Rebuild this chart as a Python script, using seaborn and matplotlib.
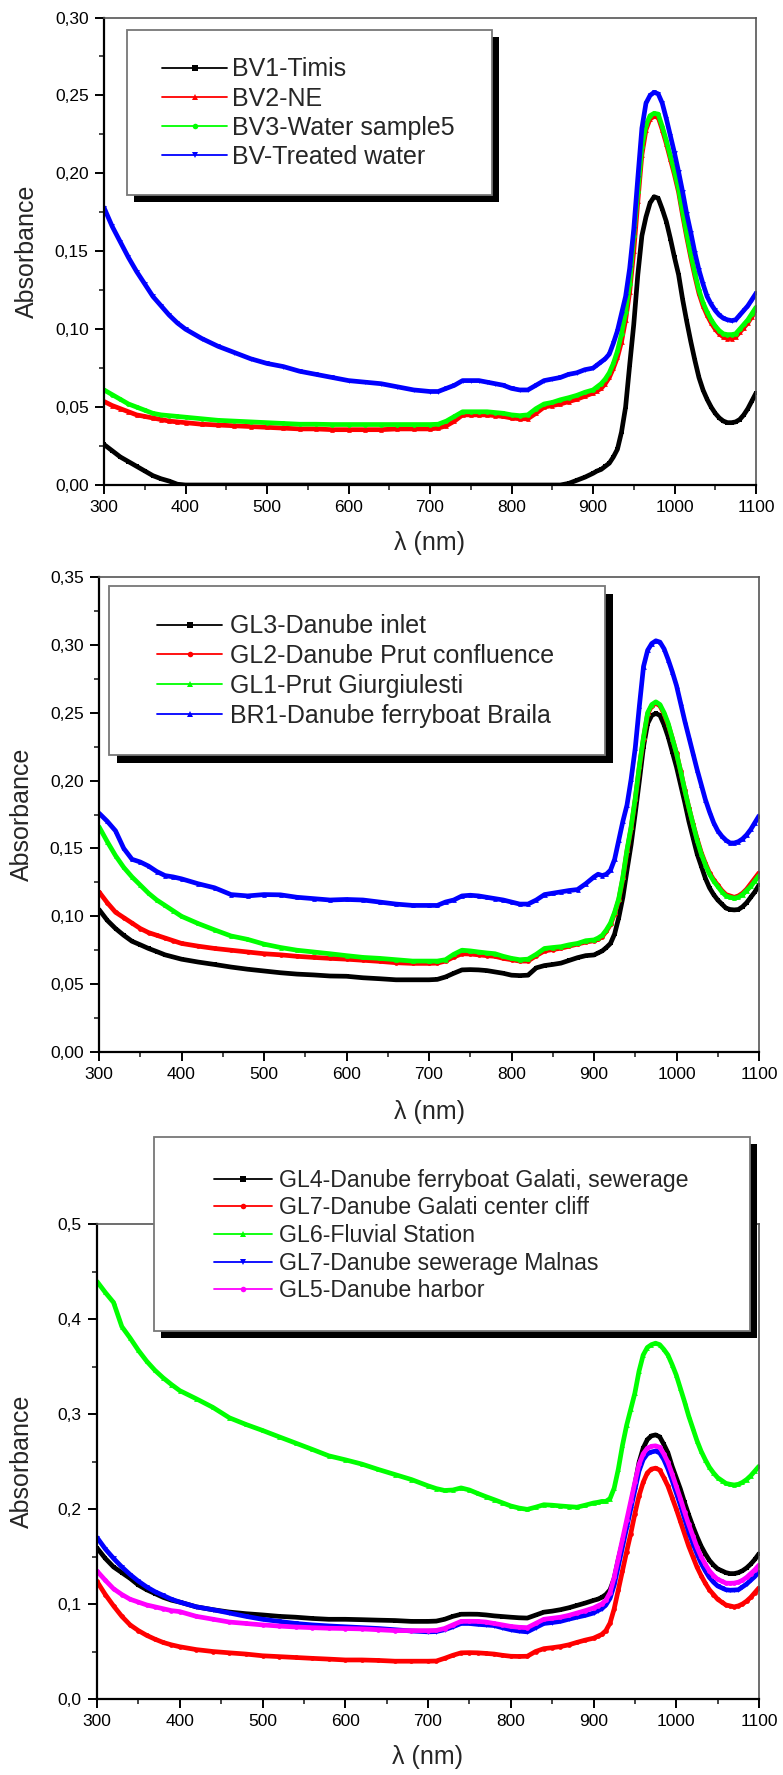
import matplotlib
matplotlib.use("Agg")
import matplotlib.pyplot as plt
import seaborn as sns
from matplotlib.patches import Rectangle
from matplotlib.ticker import MultipleLocator, FuncFormatter

# ---------------- data ----------------
wl = (list(range(300, 400, 10)) + list(range(400, 700, 20)) + list(range(700, 900, 10))
      + list(range(900, 1101, 5)))

p1_labels = ["BV1-Timis", "BV2-NE", "BV3-Water sample5", "BV-Treated water"]
p1_bv1 = [0.026, 0.022, 0.018, 0.015, 0.012, 0.009, 0.006, 0.004, 0.0025, 0.0005,
          0, 0, 0, 0, 0, 0, 0, 0, 0, 0, 0, 0, 0, 0, 0,
          0, 0, 0, 0, 0, 0, 0, 0, 0, 0, 0, 0, 0, 0, 0, 0, 0, 0.001, 0.003, 0.005,
          0.0075, 0.009, 0.010, 0.012, 0.014, 0.018, 0.023, 0.034, 0.050, 0.077, 0.103, 0.135, 0.160,
          0.172, 0.181, 0.185, 0.184, 0.177, 0.169, 0.158, 0.146, 0.135, 0.119, 0.105, 0.092, 0.080,
          0.069, 0.061, 0.055, 0.050, 0.046, 0.043, 0.041, 0.040, 0.040, 0.0405, 0.042, 0.045, 0.049,
          0.054, 0.059]
p1_bv2 = [0.0536, 0.051, 0.049, 0.047, 0.045, 0.044, 0.043, 0.042, 0.041, 0.0405,
          0.040, 0.039, 0.0385, 0.038, 0.0375, 0.037, 0.0365, 0.036, 0.036, 0.0355, 0.0355, 0.0355,
          0.0355, 0.036, 0.036,
          0.036, 0.0365, 0.038, 0.041, 0.045, 0.045, 0.045, 0.045, 0.0445, 0.044, 0.043, 0.0425,
          0.0425, 0.046, 0.050, 0.051, 0.052, 0.0535, 0.055, 0.057,
          0.059, 0.0605, 0.062, 0.065, 0.069, 0.075, 0.082, 0.092, 0.106, 0.124, 0.150, 0.182, 0.212,
          0.228, 0.235, 0.2365, 0.236, 0.228, 0.219, 0.209, 0.199, 0.188, 0.173, 0.159, 0.146, 0.134,
          0.123, 0.115, 0.109, 0.104, 0.100, 0.097, 0.095, 0.094, 0.094, 0.095, 0.098, 0.101, 0.104,
          0.108, 0.112]
p1_bv3 = [0.061, 0.058, 0.055, 0.052, 0.050, 0.048, 0.046, 0.045, 0.0445, 0.044,
          0.0435, 0.0425, 0.0415, 0.041, 0.0405, 0.040, 0.0395, 0.039, 0.039, 0.0388, 0.0388, 0.0388,
          0.0388, 0.0388, 0.0388,
          0.0388, 0.039, 0.041, 0.044, 0.047, 0.047, 0.047, 0.047, 0.0465, 0.046, 0.045, 0.0445,
          0.045, 0.049, 0.052, 0.053, 0.0547, 0.056, 0.0575, 0.0595,
          0.061, 0.063, 0.065, 0.068, 0.072, 0.078, 0.086, 0.097, 0.111, 0.129, 0.160, 0.188, 0.217,
          0.231, 0.237, 0.2385, 0.238, 0.230, 0.221, 0.211, 0.201, 0.190, 0.175, 0.161, 0.148, 0.136,
          0.125, 0.117, 0.111, 0.106, 0.102, 0.099, 0.097, 0.0965, 0.0965, 0.097, 0.100, 0.103, 0.106,
          0.110, 0.114]
p1_bvt = [0.178, 0.166, 0.156, 0.146, 0.137, 0.129, 0.121, 0.115, 0.109, 0.104,
          0.100, 0.094, 0.089, 0.085, 0.081, 0.078, 0.076, 0.073, 0.071, 0.069, 0.067, 0.066, 0.065,
          0.063, 0.061,
          0.060, 0.060, 0.062, 0.064, 0.067, 0.067, 0.067, 0.066, 0.065, 0.064, 0.062, 0.061,
          0.061, 0.064, 0.067, 0.068, 0.069, 0.071, 0.072, 0.074,
          0.075, 0.077, 0.079, 0.081, 0.084, 0.091, 0.099, 0.110, 0.121, 0.139, 0.164, 0.197, 0.229,
          0.245, 0.250, 0.252, 0.251, 0.245, 0.235, 0.224, 0.213, 0.201, 0.188, 0.174, 0.162, 0.149,
          0.138, 0.129, 0.121, 0.116, 0.112, 0.109, 0.107, 0.106, 0.1055, 0.106, 0.109, 0.112, 0.115,
          0.119, 0.123]

p2_labels = ["GL3-Danube inlet", "GL2-Danube Prut confluence", "GL1-Prut Giurgiulesti",
             "BR1-Danube ferryboat Braila"]
p2_gl3 = [0.105, 0.097, 0.091, 0.086, 0.0816, 0.079, 0.0763, 0.074, 0.0716, 0.070,
          0.0684, 0.0663, 0.0645, 0.0626, 0.061, 0.0597, 0.0584, 0.0574, 0.0568, 0.056, 0.0558,
          0.0547, 0.054, 0.0532, 0.0532,
          0.0532, 0.0535, 0.0553, 0.058, 0.0605, 0.0607, 0.0605, 0.060, 0.059, 0.058, 0.0566, 0.0563,
          0.0566, 0.062, 0.0637, 0.0645, 0.0655, 0.0675, 0.0695, 0.071,
          0.0715, 0.073, 0.0745, 0.077, 0.080, 0.087, 0.099, 0.114, 0.134, 0.153, 0.176, 0.200, 0.225,
          0.242, 0.248, 0.2495, 0.248, 0.241, 0.232, 0.221, 0.210, 0.197, 0.184, 0.170, 0.158, 0.146,
          0.137, 0.128, 0.121, 0.116, 0.112, 0.109, 0.106, 0.105, 0.1047, 0.105, 0.107, 0.110, 0.114,
          0.118, 0.123]
p2_gl2 = [0.118, 0.110, 0.103, 0.099, 0.095, 0.091, 0.088, 0.086, 0.084, 0.082,
          0.080, 0.078, 0.0763, 0.075, 0.0737, 0.0724, 0.0716, 0.0705, 0.0697, 0.069, 0.0684, 0.0676,
          0.0668, 0.0658, 0.0653,
          0.0653, 0.0655, 0.067, 0.070, 0.0724, 0.0722, 0.0716, 0.071, 0.0705, 0.069, 0.068, 0.067,
          0.067, 0.071, 0.0745, 0.0755, 0.0765, 0.078, 0.0795, 0.081,
          0.082, 0.083, 0.085, 0.089, 0.094, 0.102, 0.112, 0.128, 0.148, 0.165, 0.186, 0.210, 0.231,
          0.249, 0.255, 0.257, 0.255, 0.249, 0.241, 0.231, 0.220, 0.207, 0.193, 0.180, 0.168, 0.157,
          0.147, 0.139, 0.132, 0.127, 0.123, 0.119, 0.116, 0.115, 0.114, 0.115, 0.117, 0.120, 0.124,
          0.128, 0.132]
p2_gl1 = [0.166, 0.155, 0.1447, 0.136, 0.129, 0.123, 0.117, 0.112, 0.108, 0.104,
          0.100, 0.0947, 0.090, 0.0855, 0.083, 0.0795, 0.077, 0.075, 0.0737, 0.0724, 0.071, 0.0697,
          0.069, 0.068, 0.067,
          0.067, 0.067, 0.068, 0.072, 0.075, 0.0745, 0.0737, 0.073, 0.0724, 0.0705, 0.069, 0.068,
          0.0684, 0.072, 0.0763, 0.077, 0.0776, 0.079, 0.080, 0.082,
          0.0826, 0.084, 0.086, 0.090, 0.095, 0.103, 0.113, 0.129, 0.149, 0.166, 0.187, 0.211, 0.232,
          0.250, 0.256, 0.258, 0.256, 0.250, 0.242, 0.231, 0.220, 0.207, 0.193, 0.180, 0.168, 0.156,
          0.146, 0.138, 0.131, 0.126, 0.122, 0.118, 0.115, 0.114, 0.1133, 0.114, 0.116, 0.119, 0.122,
          0.126, 0.130]
p2_br1 = [0.176, 0.170, 0.163, 0.150, 0.142, 0.140, 0.137, 0.133, 0.130, 0.129,
          0.1276, 0.124, 0.121, 0.116, 0.115, 0.116, 0.1158, 0.114, 0.113, 0.112, 0.1124, 0.112,
          0.1105, 0.109, 0.108,
          0.108, 0.108, 0.1105, 0.112, 0.115, 0.1155, 0.115, 0.114, 0.113, 0.112, 0.1105, 0.109,
          0.109, 0.112, 0.116, 0.117, 0.118, 0.119, 0.1197, 0.124,
          0.129, 0.131, 0.130, 0.131, 0.134, 0.142, 0.156, 0.170, 0.182, 0.201, 0.224, 0.255, 0.284,
          0.296, 0.301, 0.303, 0.302, 0.297, 0.289, 0.280, 0.270, 0.257, 0.244, 0.232, 0.220, 0.208,
          0.197, 0.186, 0.177, 0.169, 0.163, 0.159, 0.156, 0.154, 0.154, 0.155, 0.157, 0.160, 0.164,
          0.169, 0.174]

p3_labels = ["GL4-Danube ferryboat Galati, sewerage", "GL7-Danube Galati center cliff",
             "GL6-Fluvial Station", "GL7-Danube sewerage Malnas", "GL5-Danube harbor"]
p3_gl4 = [0.159, 0.148, 0.139, 0.133, 0.127, 0.120, 0.115, 0.111, 0.107, 0.104,
          0.102, 0.097, 0.094, 0.0915, 0.0898, 0.0885, 0.087, 0.0861, 0.0848, 0.0839, 0.0839, 0.0835,
          0.083, 0.0826, 0.0817,
          0.0817, 0.082, 0.0839, 0.087, 0.0892, 0.0893, 0.0892, 0.0885, 0.0875, 0.0868, 0.0861,
          0.0855, 0.0852, 0.0883, 0.0914, 0.0925, 0.094, 0.096, 0.0985, 0.101,
          0.1038, 0.105, 0.107, 0.110, 0.115, 0.127, 0.147, 0.165, 0.183, 0.204, 0.226, 0.249, 0.264,
          0.273, 0.277, 0.278, 0.276, 0.268, 0.259, 0.245, 0.233, 0.221, 0.207, 0.194, 0.182, 0.171,
          0.161, 0.153, 0.146, 0.141, 0.137, 0.135, 0.133, 0.132, 0.132, 0.133, 0.135, 0.138, 0.142,
          0.147, 0.153]
p3_gl7c = [0.1237, 0.110, 0.098, 0.087, 0.078, 0.072, 0.067, 0.063, 0.0595, 0.057,
           0.055, 0.052, 0.050, 0.0486, 0.0473, 0.0455, 0.0446, 0.0437, 0.0428, 0.042, 0.0411,
           0.0411, 0.0406, 0.0398, 0.0398,
           0.0398, 0.040, 0.0428, 0.046, 0.0486, 0.0488, 0.0486, 0.048, 0.0473, 0.046, 0.045, 0.0448,
           0.045, 0.050, 0.053, 0.054, 0.0552, 0.057, 0.0596, 0.062,
           0.064, 0.066, 0.068, 0.072, 0.080, 0.095, 0.115, 0.135, 0.155, 0.174, 0.195, 0.214, 0.228,
           0.238, 0.242, 0.243, 0.241, 0.233, 0.224, 0.212, 0.200, 0.187, 0.174, 0.161, 0.150, 0.139,
           0.130, 0.122, 0.115, 0.110, 0.105, 0.102, 0.099, 0.098, 0.097, 0.098, 0.100, 0.103, 0.107,
           0.112, 0.117]
p3_gl6 = [0.4395, 0.428, 0.4174, 0.392, 0.380, 0.367, 0.3556, 0.346, 0.338, 0.331,
          0.3246, 0.316, 0.307, 0.296, 0.289, 0.2827, 0.276, 0.2694, 0.2628, 0.256, 0.2518, 0.2473,
          0.2416, 0.2363, 0.231,
          0.2244, 0.2215, 0.2195, 0.220, 0.2222, 0.220, 0.2164, 0.213, 0.2098, 0.2065, 0.2032, 0.201,
          0.1996, 0.2019, 0.2045, 0.204, 0.2032, 0.2025, 0.2019, 0.204,
          0.2063, 0.207, 0.208, 0.208, 0.211, 0.222, 0.242, 0.267, 0.288, 0.305, 0.322, 0.345, 0.362,
          0.370, 0.373, 0.3745, 0.373, 0.368, 0.362, 0.352, 0.341, 0.327, 0.313, 0.298, 0.285, 0.272,
          0.261, 0.252, 0.244, 0.238, 0.233, 0.230, 0.227, 0.226, 0.2253, 0.226, 0.228, 0.231, 0.235,
          0.240, 0.245]
p3_gl7m = [0.170, 0.158, 0.148, 0.139, 0.131, 0.124, 0.118, 0.113, 0.109, 0.105,
           0.102, 0.097, 0.094, 0.0905, 0.087, 0.0839, 0.0817, 0.0795, 0.078, 0.0769, 0.076, 0.0751,
           0.0742, 0.0729, 0.0716,
           0.0707, 0.071, 0.0729, 0.076, 0.0795, 0.0795, 0.0786, 0.078, 0.0773, 0.075, 0.0729, 0.0715,
           0.0707, 0.0751, 0.0795, 0.0805, 0.0817, 0.084, 0.0861, 0.088,
           0.0905, 0.093, 0.095, 0.099, 0.106, 0.120, 0.140, 0.160, 0.180, 0.200, 0.220, 0.240, 0.252,
           0.258, 0.260, 0.261, 0.259, 0.252, 0.242, 0.230, 0.217, 0.204, 0.190, 0.176, 0.164, 0.153,
           0.143, 0.135, 0.128, 0.123, 0.119, 0.117, 0.115, 0.1145, 0.1147, 0.115, 0.118, 0.121, 0.125,
           0.129, 0.134]
p3_gl5 = [0.1347, 0.125, 0.116, 0.110, 0.105, 0.102, 0.099, 0.097, 0.095, 0.093,
          0.092, 0.087, 0.084, 0.081, 0.0795, 0.078, 0.0768, 0.0758, 0.0751, 0.0745, 0.0742, 0.0738,
          0.0729, 0.072, 0.072,
          0.072, 0.0722, 0.0742, 0.078, 0.0817, 0.0818, 0.0817, 0.081, 0.0795, 0.078, 0.0764, 0.0755,
          0.0751, 0.0795, 0.0839, 0.085, 0.0861, 0.088, 0.0905, 0.093,
          0.0958, 0.098, 0.100, 0.104, 0.112, 0.128, 0.148, 0.168, 0.188, 0.208, 0.228, 0.247, 0.258,
          0.264, 0.266, 0.2665, 0.265, 0.258, 0.249, 0.237, 0.224, 0.211, 0.197, 0.184, 0.172, 0.160,
          0.150, 0.142, 0.135, 0.130, 0.126, 0.124, 0.122, 0.1218, 0.122, 0.123, 0.125, 0.128, 0.132,
          0.136, 0.141]

# ---------------- style ----------------
sns.set_style("ticks")
plt.rcParams["font.family"] = ["Liberation Sans", "DejaVu Sans"]

W, H = 783, 1775
fig = plt.figure(figsize=(W / 100, H / 100), dpi=100)


def fx(px):
    return px / W


def fy(py):
    return 1 - py / H


panels = [
    dict(rect=(104, 17.5, 756, 485), ymax=0.30, ymaj=0.05, ymin=0.025, dec=2,
         series=[p1_bv1, p1_bv2, p1_bv3, p1_bvt], labels=p1_labels,
         colors=["#000000", "#ff0000", "#00ff00", "#0000ff"], markers=["s", "^", "o", "v"],
         frame=(127, 30, 492, 195), shadow=7, leg=(162, 113), fs=18, ls=0.2, hl=2.6, htp=0.2,
         ylab_x=39, xlab_y=531),
    dict(rect=(99, 577, 759, 1052), ymax=0.35, ymaj=0.05, ymin=0.025, dec=2,
         series=[p2_gl3, p2_gl2, p2_gl1, p2_br1], labels=p2_labels,
         colors=["#000000", "#ff0000", "#00ff00", "#0000ff"], markers=["s", "o", "^", "^"],
         frame=(109, 586, 605, 755), shadow=8, leg=(157, 671), fs=18, ls=0.23, hl=2.6, htp=0.32,
         ylab_x=34, xlab_y=1100),
    dict(rect=(97, 1224, 759, 1699), ymax=0.5, ymaj=0.1, ymin=0.05, dec=1,
         series=[p3_gl4, p3_gl7c, p3_gl6, p3_gl7m, p3_gl5], labels=p3_labels,
         colors=["#000000", "#ff0000", "#00ff00", "#0000ff", "#ff00ff"],
         markers=["s", "o", "^", "v", "o"],
         frame=(154, 1137, 750, 1331), shadow=7, leg=(214, 1235.5), fs=16.7, ls=0.2, hl=2.5,
         htp=0.3, ylab_x=34, xlab_y=1745),
]

for p in panels:
    x0, y0, x1, y1 = p["rect"]
    ax = fig.add_axes([fx(x0), fy(y1), (x1 - x0) / W, (y1 - y0) / H])
    lines = []
    for vals, c, m, lab in zip(p["series"], p["colors"], p["markers"], p["labels"]):
        sns.lineplot(x=wl, y=vals, ax=ax, color=c, marker=m, markersize=3.4,
                     markeredgewidth=0, linewidth=3.4, sort=False, estimator=None,
                     legend=False)
        ln = ax.lines[-1]
        ln.set_label(lab)
        lines.append(ln)
    ax.set_xlim(300, 1100)
    ax.set_ylim(0, p["ymax"])
    ax.xaxis.set_major_locator(MultipleLocator(100))
    ax.xaxis.set_minor_locator(MultipleLocator(50))
    ax.yaxis.set_major_locator(MultipleLocator(p["ymaj"]))
    ax.yaxis.set_minor_locator(MultipleLocator(p["ymin"]))
    d = p["dec"]
    ax.yaxis.set_major_formatter(FuncFormatter(lambda v, pos, d=d: f"{v:.{d}f}".replace(".", ",")))
    ax.tick_params(which="major", direction="out", length=6.5, width=1.4, labelsize=12.5,
                   pad=4.5, top=False, right=False, colors="black")
    ax.tick_params(which="minor", direction="out", length=3.6, width=1.2, top=False, right=False)
    for s in ("left", "bottom"):
        ax.spines[s].set_color("black")
        ax.spines[s].set_linewidth(1.6)
    for s in ("top", "right"):
        ax.spines[s].set_visible(True)
        ax.spines[s].set_color("#555555")
        ax.spines[s].set_linewidth(1.2)
    ax.set_xlabel("λ (nm)", fontsize=18)
    ax.set_ylabel("Absorbance", fontsize=18)
    ax.yaxis.set_label_coords((p["ylab_x"] - x0) / (x1 - x0), 0.5)
    ax.xaxis.set_label_coords(0.5, (y1 - p["xlab_y"]) / (y1 - y0))

    # legend box with shadow
    fx0, fy0, fx1, fy1 = p["frame"]
    sh = p["shadow"]
    fig.add_artist(Rectangle((fx(fx0 + sh), fy(fy1 + sh)), (fx1 - fx0) / W, (fy1 - fy0) / H,
                             transform=fig.transFigure, facecolor="black", edgecolor="none",
                             zorder=3))
    fig.add_artist(Rectangle((fx(fx0), fy(fy1)), (fx1 - fx0) / W, (fy1 - fy0) / H,
                             transform=fig.transFigure, facecolor="white", edgecolor="#777777",
                             linewidth=1.3, zorder=4))
    lx, ly = p["leg"]
    leg = fig.legend(handles=lines, labels=p["labels"], loc="center left",
                     bbox_to_anchor=(fx(lx), fy(ly)), frameon=False, borderpad=0,
                     borderaxespad=0, fontsize=p["fs"], labelspacing=p["ls"],
                     handlelength=p["hl"], handletextpad=p["htp"], numpoints=1)
    leg.set_zorder(5)
    for h in leg.legend_handles:
        h.set_linewidth(1.3)
        h.set_markersize(4)

fig.savefig("out.png", dpi=100)
